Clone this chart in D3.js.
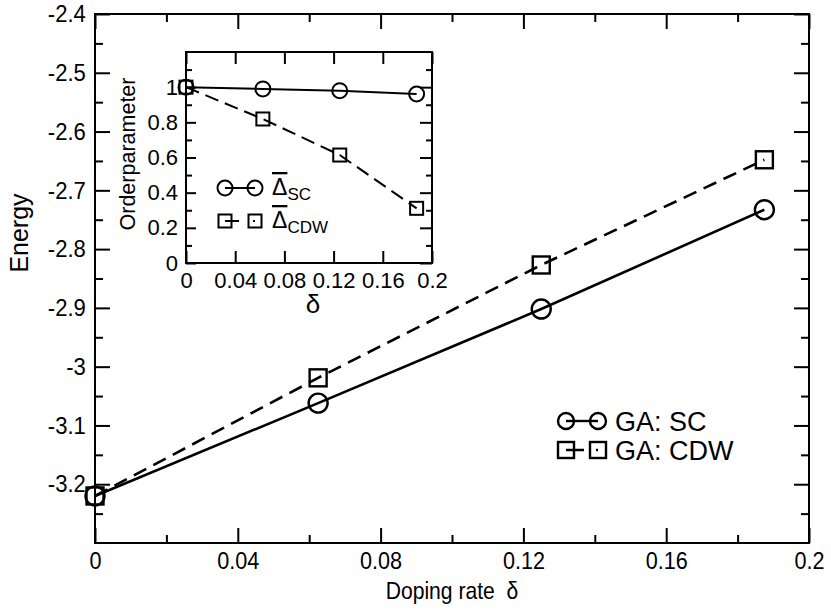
<!DOCTYPE html>
<html>
<head>
<meta charset="utf-8">
<script src="https://cdn.jsdelivr.net/npm/d3@7"></script>
<style>
  html, body { margin: 0; padding: 0; background: #fff; }
  svg { display: block; font-family: "Liberation Sans", Arial, sans-serif; }
</style>
</head>
<body>
<svg id="chart" width="831" height="610"></svg>
<script>
// Doping rates and ground-state energies from the Gutzwiller approximation
const doping = [0, 0.0625, 0.125, 0.1875];
const energySC = [-3.22, -3.062, -2.902, -2.733];
const energyCDW = [-3.22, -3.019, -2.827, -2.648];

// Normalised order parameters (inset)
const orderSC = [1.0, 0.99, 0.98, 0.961];
const orderCDW = [1.0, 0.819, 0.614, 0.311];

// Tick values
const xMajor = [0, 0.04, 0.08, 0.12, 0.16, 0.2];
const xMinor = [0.02, 0.06, 0.1, 0.14, 0.18];
const yMajor = [-2.4, -2.5, -2.6, -2.7, -2.8, -2.9, -3.0, -3.1, -3.2];
const yMinor = [-2.45, -2.55, -2.65, -2.75, -2.85, -2.95, -3.05, -3.15, -3.25];
const insetXMajor = [0, 0.04, 0.08, 0.12, 0.16, 0.2];
const insetYMajor = [0, 0.2, 0.4, 0.6, 0.8, 1.0];
const insetYMinor = [0.1, 0.3, 0.5, 0.7, 0.9, 1.1];

const legendMain = ["GA: SC", "GA: CDW"];

const svg = d3.select("#chart");
const fmt = v => String(+v.toFixed(3));

// ---------- main panel ----------
const M = { left: 95, right: 809, top: 14, bottom: 543 };
const x = d3.scaleLinear().domain([0, 0.2]).range([M.left, M.right]);
const y = d3.scaleLinear().domain([-3.3, -2.4]).range([M.bottom, M.top]);

function styleAxis(g, size, sx = 1) {
  g.select(".domain").remove();
  g.selectAll("line").attr("stroke", "#000").attr("stroke-width", 2);
  g.selectAll("text").attr("font-size", size).attr("fill", "#000")
    .attr("font-family", "Liberation Sans, Arial, sans-serif")
    .attr("transform", `scale(${sx},1)`);
}

const main = svg.append("g");
// bottom
main.append("g").attr("transform", `translate(0,${M.bottom})`)
  .call(d3.axisBottom(x).tickValues(xMajor).tickSize(-15).tickPadding(9).tickFormat(fmt))
  .call(g => styleAxis(g, 24, 0.9));
main.append("g").attr("transform", `translate(0,${M.bottom})`)
  .call(d3.axisBottom(x).tickValues(xMinor).tickSize(-8).tickFormat(""))
  .call(g => styleAxis(g, 24));
// top
main.append("g").attr("transform", `translate(0,${M.top})`)
  .call(d3.axisTop(x).tickValues(xMajor).tickSize(-15).tickFormat(""))
  .call(g => styleAxis(g, 24));
main.append("g").attr("transform", `translate(0,${M.top})`)
  .call(d3.axisTop(x).tickValues(xMinor).tickSize(-8).tickFormat(""))
  .call(g => styleAxis(g, 24));
// left
main.append("g").attr("transform", `translate(${M.left},0)`)
  .call(d3.axisLeft(y).tickValues(yMajor).tickSize(-15).tickPadding(10).tickFormat(fmt))
  .call(g => styleAxis(g, 24, 0.92));
main.append("g").attr("transform", `translate(${M.left},0)`)
  .call(d3.axisLeft(y).tickValues(yMinor).tickSize(-8).tickFormat(""))
  .call(g => styleAxis(g, 24));
// right
main.append("g").attr("transform", `translate(${M.right},0)`)
  .call(d3.axisRight(y).tickValues(yMajor).tickSize(-15).tickFormat(""))
  .call(g => styleAxis(g, 24));
main.append("g").attr("transform", `translate(${M.right},0)`)
  .call(d3.axisRight(y).tickValues(yMinor).tickSize(-8).tickFormat(""))
  .call(g => styleAxis(g, 24));

main.append("rect")
  .attr("x", M.left).attr("y", M.top)
  .attr("width", M.right - M.left).attr("height", M.bottom - M.top)
  .attr("fill", "none").attr("stroke", "#000").attr("stroke-width", 2);

// axis titles
main.append("text")
  .attr("transform", `translate(28,233) rotate(-90)`)
  .attr("text-anchor", "middle").attr("font-size", 25).text("Energy");
main.append("text")
  .attr("transform", `translate(${(M.left + M.right) / 2},599) scale(0.88,1)`)
  .attr("text-anchor", "middle").attr("font-size", 24)
  .style("white-space", "pre").text("Doping rate  δ");

// series
const lineE = vals => d3.line().x((d, i) => x(doping[i])).y(d => y(d))(vals);
main.append("path").attr("d", lineE(energyCDW))
  .attr("fill", "none").attr("stroke", "#000").attr("stroke-width", 2.6)
  .attr("stroke-dasharray", "14,8");
main.append("path").attr("d", lineE(energySC))
  .attr("fill", "none").attr("stroke", "#000").attr("stroke-width", 2.6);

main.selectAll("circle.sc").data(energySC).join("circle")
  .attr("cx", (d, i) => x(doping[i])).attr("cy", d => y(d)).attr("r", 9.5)
  .attr("fill", "none").attr("stroke", "#000").attr("stroke-width", 2.4);
main.selectAll("rect.cdw").data(energyCDW).join("rect")
  .attr("x", (d, i) => x(doping[i]) - 8.5).attr("y", d => y(d) - 8.5)
  .attr("width", 17).attr("height", 17)
  .attr("fill", "none").attr("stroke", "#000").attr("stroke-width", 2.4);

// main legend
const lg = main.append("g");
const lgX0 = 566, lgX1 = 598, lgY = [421, 450];
lg.append("line").attr("x1", lgX0).attr("x2", lgX1).attr("y1", lgY[0]).attr("y2", lgY[0])
  .attr("stroke", "#000").attr("stroke-width", 2.4);
[lgX0, lgX1].forEach(cx => lg.append("circle").attr("cx", cx).attr("cy", lgY[0]).attr("r", 8)
  .attr("fill", "none").attr("stroke", "#000").attr("stroke-width", 2.4));
lg.append("line").attr("x1", lgX0).attr("x2", lgX1).attr("y1", lgY[1]).attr("y2", lgY[1])
  .attr("stroke", "#000").attr("stroke-width", 2.4).attr("stroke-dasharray", "18,12,2,100");
[lgX0, lgX1].forEach(cx => lg.append("rect").attr("x", cx - 8).attr("y", lgY[1] - 8)
  .attr("width", 16).attr("height", 16)
  .attr("fill", "none").attr("stroke", "#000").attr("stroke-width", 2.4));
legendMain.forEach((t, i) => lg.append("text").attr("x", 615).attr("y", lgY[i])
  .attr("dy", "0.36em").attr("font-size", 27).text(t));

// ---------- inset ----------
const I = { left: 186, right: 432, top: 52, bottom: 263 };
const ix = d3.scaleLinear().domain([0, 0.2]).range([I.left, I.right]);
const iy = d3.scaleLinear().domain([0, 1.2]).range([I.bottom, I.top]);
const inset = svg.append("g");

inset.append("rect")
  .attr("x", I.left).attr("y", I.top)
  .attr("width", I.right - I.left).attr("height", I.bottom - I.top)
  .attr("fill", "#fff");

inset.append("g").attr("transform", `translate(0,${I.bottom})`)
  .call(d3.axisBottom(ix).tickValues(insetXMajor).tickSize(-12).tickPadding(9).tickFormat(fmt))
  .call(g => styleAxis(g, 22));
inset.append("g").attr("transform", `translate(0,${I.top})`)
  .call(d3.axisTop(ix).tickValues(insetXMajor).tickSize(-12).tickFormat(""))
  .call(g => styleAxis(g, 22));
inset.append("g").attr("transform", `translate(${I.left},0)`)
  .call(d3.axisLeft(iy).tickValues(insetYMajor).tickSize(-10).tickPadding(8).tickFormat(fmt))
  .call(g => styleAxis(g, 22));
inset.append("g").attr("transform", `translate(${I.left},0)`)
  .call(d3.axisLeft(iy).tickValues(insetYMinor).tickSize(-6).tickFormat(""))
  .call(g => styleAxis(g, 22));
inset.append("g").attr("transform", `translate(${I.right},0)`)
  .call(d3.axisRight(iy).tickValues(insetYMajor).tickSize(-12).tickFormat(""))
  .call(g => styleAxis(g, 22));
inset.append("g").attr("transform", `translate(${I.right},0)`)
  .call(d3.axisRight(iy).tickValues(insetYMinor).tickSize(-6).tickFormat(""))
  .call(g => styleAxis(g, 22));

inset.append("rect")
  .attr("x", I.left).attr("y", I.top)
  .attr("width", I.right - I.left).attr("height", I.bottom - I.top)
  .attr("fill", "none").attr("stroke", "#000").attr("stroke-width", 2);

inset.append("text")
  .attr("transform", `translate(135,154) rotate(-90)`)
  .attr("text-anchor", "middle").attr("font-size", 21.5).text("Orderparameter");
inset.append("text")
  .attr("x", (I.left + I.right) / 2 + 4).attr("y", 313)
  .attr("text-anchor", "middle").attr("font-size", 26).text("δ");

const lineO = vals => d3.line().x((d, i) => ix(doping[i])).y(d => iy(d))(vals);
inset.append("path").attr("d", lineO(orderCDW))
  .attr("fill", "none").attr("stroke", "#000").attr("stroke-width", 2)
  .attr("stroke-dasharray", "14,7");
inset.append("path").attr("d", lineO(orderSC))
  .attr("fill", "none").attr("stroke", "#000").attr("stroke-width", 2);
inset.selectAll("circle.sc").data(orderSC).join("circle")
  .attr("cx", (d, i) => ix(doping[i])).attr("cy", d => iy(d)).attr("r", 7.5)
  .attr("fill", "none").attr("stroke", "#000").attr("stroke-width", 2);
inset.selectAll("rect.cdw").data(orderCDW).join("rect")
  .attr("x", (d, i) => ix(doping[i]) - 6.5).attr("y", d => iy(d) - 6.5)
  .attr("width", 13).attr("height", 13)
  .attr("fill", "none").attr("stroke", "#000").attr("stroke-width", 2);

// inset legend
const il = inset.append("g");
const ilX0 = 225, ilX1 = 255, ilY = [188, 221];
il.append("line").attr("x1", ilX0).attr("x2", ilX1).attr("y1", ilY[0]).attr("y2", ilY[0])
  .attr("stroke", "#000").attr("stroke-width", 2);
[ilX0, ilX1].forEach(cx => il.append("circle").attr("cx", cx).attr("cy", ilY[0]).attr("r", 7.5)
  .attr("fill", "none").attr("stroke", "#000").attr("stroke-width", 2));
il.append("line").attr("x1", ilX0).attr("x2", ilX1).attr("y1", ilY[1]).attr("y2", ilY[1])
  .attr("stroke", "#000").attr("stroke-width", 2).attr("stroke-dasharray", "14,14,2,100");
[ilX0, ilX1].forEach(cx => il.append("rect").attr("x", cx - 6.5).attr("y", ilY[1] - 6.5)
  .attr("width", 13).attr("height", 13)
  .attr("fill", "none").attr("stroke", "#000").attr("stroke-width", 2));

const insetLegend = [["Δ", "SC"], ["Δ", "CDW"]];
insetLegend.forEach(([sym, sub], i) => {
  const t = il.append("text").attr("x", 272).attr("y", ilY[i] + 7).attr("font-size", 23);
  t.append("tspan").style("text-decoration", "overline").text(sym);
  t.append("tspan").attr("font-size", 17).attr("dy", 5).text(sub);
});
</script>
</body>
</html>
